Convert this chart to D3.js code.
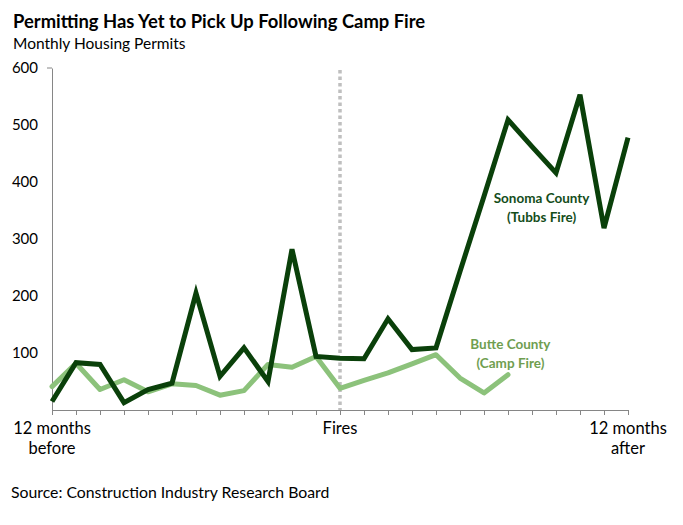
<!DOCTYPE html>
<html>
<head>
<meta charset="utf-8">
<script src="https://cdn.jsdelivr.net/npm/d3@7"></script>
<style>
	body { margin: 0; background: #fff; }
	svg { display: block; font-family: Lato, "Open Sans", sans-serif; }
</style>
</head>
<body>
<script>
// month offsets relative to the fires (-12 .. +12)
const months = d3.range(-12, 13);

// Sonoma County (Tubbs Fire) monthly permits
const sonoma = [15, 83, 80, 13, 36, 47, 205, 59, 109, 50, 282, 94, 91, 90, 160, 106, 109, 243, 375, 509, 462, 416, 553, 319, 478];

// Butte County (Camp Fire) monthly permits, only through month +7
const butte = [41, 82, 36, 53, 32, 46, 43, 26, 34, 80, 75, 94, 38, 52, 65, 81, 97, 56, 30, 62];

const yTicks = [100, 200, 300, 400, 500, 600];
const xLabels = [
	{ m: -12, lines: ["12 months", "before"] },
	{ m: 0, lines: ["Fires"] },
	{ m: 12, lines: ["12 months", "after"] },
];

const width = 683;
const height = 525;

const svg = d3.select("body").append("svg").attr("width", width).attr("height", height);

const x = d3.scaleLinear().domain([-12, 12]).range([52, 628]);
const y = d3.scaleLinear().domain([0, 600]).range([410, 68]);

// Titles
svg.append("text")
	.attr("x", 13)
	.attr("y", 28)
	.attr("font-weight", "bold")
	.attr("font-size", 18.4)
	.attr("fill", "#000")
	.text("Permitting Has Yet to Pick Up Following Camp Fire");

svg.append("text")
	.attr("x", 13)
	.attr("y", 49)
	.attr("font-size", 15.5)
	.attr("fill", "#000")
	.text("Monthly Housing Permits");

// Y axis
const yAxis = svg.append("g")
	.attr("transform", `translate(${x(-12)},0)`)
	.call(d3.axisLeft(y).tickValues(yTicks).tickSizeInner(0).tickSizeOuter(0).tickPadding(14));
yAxis.select(".domain").attr("stroke", "#868686");
yAxis.selectAll("text").attr("font-size", 15).attr("fill", "#000").attr("font-family", "Lato, sans-serif");

svg.append("line")
	.attr("x1", x(-12) - 5)
	.attr("x2", x(-12))
	.attr("y1", y(600))
	.attr("y2", y(600))
	.attr("stroke", "#868686");

// X axis
const xAxis = svg.append("g")
	.attr("transform", `translate(0,${y(0)})`)
	.call(d3.axisBottom(x).tickValues(months).tickSizeInner(5).tickSizeOuter(0).tickFormat(""));
xAxis.selectAll("line, path").attr("stroke", "#868686");

const xl = svg.append("g")
	.selectAll("text")
	.data(xLabels)
	.enter()
	.append("text")
	.attr("x", (d) => x(d.m))
	.attr("y", 434)
	.attr("text-anchor", "middle")
	.attr("font-size", 16.5)
	.attr("fill", "#000");
xl.selectAll("tspan")
	.data((d) => d.lines.map((t) => ({ t, m: d.m })))
	.enter()
	.append("tspan")
	.attr("x", (d) => x(d.m))
	.attr("dy", (d, i) => (i === 0 ? 0 : 20))
	.text((d) => d.t);

// Fires marker
svg.append("line")
	.attr("x1", x(0))
	.attr("x2", x(0))
	.attr("y1", 70)
	.attr("y2", y(0))
	.attr("stroke", "#bfbfbf")
	.attr("stroke-width", 3.5)
	.attr("stroke-dasharray", "3.5,3");

// Lines
const line = d3.line()
	.x((d, i) => x(months[i]))
	.y((d) => y(d));

svg.append("path")
	.datum(butte)
	.attr("d", line)
	.attr("fill", "none")
	.attr("stroke", "#8cc27b")
	.attr("stroke-width", 5)
	.attr("stroke-linejoin", "round")
	.attr("stroke-linecap", "round");

svg.append("path")
	.datum(sonoma)
	.attr("d", line)
	.attr("fill", "none")
	.attr("stroke", "#0a400a")
	.attr("stroke-width", 5)
	.attr("stroke-linejoin", "miter");

// Series labels
const labels = [
	{ lines: ["Sonoma County", "(Tubbs Fire)"], m: 8.4, v: 363, color: "#144d1a" },
	{ lines: ["Butte County", "(Camp Fire)"], m: 7.1, v: 107, color: "#6f9e50" },
];
labels.forEach((l) => {
	l.lines.forEach((t, i) => {
		svg.append("text")
			.attr("x", x(l.m))
			.attr("y", y(l.v) + i * 19)
			.attr("text-anchor", "middle")
			.attr("font-weight", "bold")
			.attr("font-size", 13.5)
			.attr("fill", l.color)
			.text(t);
	});
});

// Source
svg.append("text")
	.attr("x", 11)
	.attr("y", 498)
	.attr("font-size", 15.8)
	.attr("fill", "#000")
	.text("Source: Construction Industry Research Board");
</script>
</body>
</html>
